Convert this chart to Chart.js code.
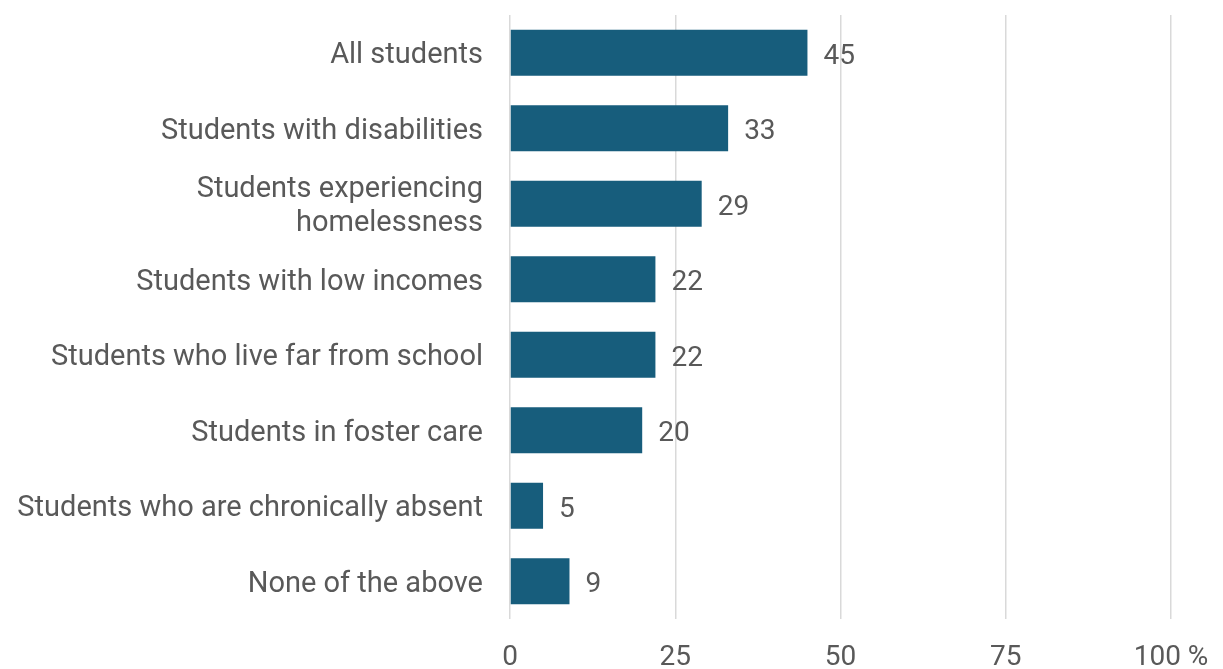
<!DOCTYPE html>
<html>
<head>
<meta charset="utf-8">
<script src="https://cdn.jsdelivr.net/npm/chart.js@4"></script>
<style>
    html, body { margin: 0; padding: 0; background: #ffffff; }
    #chart-wrap { width: 1223px; height: 669px; }
</style>
</head>
<body>
<div id="chart-wrap"><canvas id="bar-chart"></canvas></div>
<script>
// --- Data --- //

const categoryLabels = [
    "All students",
    "Students with disabilities",
    ["Students experiencing", "homelessness"],
    "Students with low incomes",
    "Students who live far from school",
    "Students in foster care",
    "Students who are chronically absent",
    "None of the above"
];

const percentValues = [45, 33, 29, 22, 22, 20, 5, 9];

const axisTicks = [0, 25, 50, 75, 100];

// --- Styles --- //

const BAR_COLOR = "#175d7c";
const TEXT_COLOR = "#595959";
const GRID_COLOR = "#d9d9d9";
const FONT_FAMILY = "Roboto, 'Noto Sans', sans-serif";

// draws the value to the right of each bar
const valueLabelPlugin = {
    id: "valueLabels",
    afterDatasetsDraw: function (chart) {
        const context = chart.ctx;
        const meta = chart.getDatasetMeta(0);

        context.save();
        context.font = "28px " + FONT_FAMILY;
        context.fillStyle = TEXT_COLOR;
        context.textAlign = "left";
        context.textBaseline = "middle";

        for (let barIndex = 0; barIndex < meta.data.length; barIndex++) {
            const bar = meta.data[barIndex];
            context.fillText(String(percentValues[barIndex]), bar.x + 16, bar.y + 4);
        }

        context.restore();
    }
};

new Chart(document.getElementById("bar-chart"), {
    type: "bar",
    data: {
        labels: categoryLabels,
        datasets: [
            {
                data: percentValues,
                backgroundColor: BAR_COLOR,
                borderWidth: 0,
                categoryPercentage: 0.61,
                barPercentage: 1
            }
        ]
    },
    options: {
        indexAxis: "y",
        responsive: true,
        maintainAspectRatio: false,
        animation: false,
        layout: {
            padding: {
                top: 15,
                right: 52,
                left: 0,
                bottom: 0
            }
        },
        scales: {
            x: {
                min: 0,
                max: 100,
                afterBuildTicks: function (axis) {
                    axis.ticks = axisTicks.map(value => ({ value: value }));
                },
                afterFit: function (axis) {
                    axis.height = 50;
                    axis.paddingLeft = 0;
                    axis.paddingRight = 0;
                },
                grid: {
                    color: GRID_COLOR,
                    lineWidth: 1.5,
                    drawTicks: false
                },
                border: {
                    display: false
                },
                ticks: {
                    color: TEXT_COLOR,
                    padding: 22,
                    maxRotation: 0,
                    font: {
                        family: FONT_FAMILY,
                        size: 28
                    },
                    callback: function (value) {
                        return value === 100 ? "100 %" : String(value);
                    }
                }
            },
            y: {
                afterFit: function (axis) {
                    axis.width = 510;
                    axis.paddingTop = 0;
                    axis.paddingBottom = 0;
                },
                grid: {
                    display: false,
                    drawTicks: false
                },
                border: {
                    display: false
                },
                ticks: {
                    color: TEXT_COLOR,
                    padding: 27,
                    labelOffset: 3,
                    autoSkip: false,
                    font: {
                        family: FONT_FAMILY,
                        size: 29,
                        lineHeight: 1.2
                    }
                }
            }
        },
        plugins: {
            legend: {
                display: false
            },
            tooltip: {
                enabled: false
            }
        }
    },
    plugins: [valueLabelPlugin]
});
</script>
</body>
</html>
